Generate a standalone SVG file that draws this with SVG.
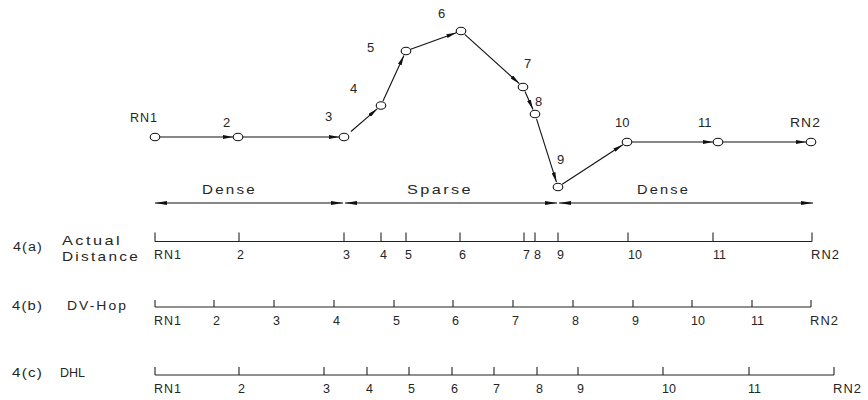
<svg xmlns="http://www.w3.org/2000/svg" width="868" height="400" viewBox="0 0 868 400">
<style>
text{font-family:"Liberation Sans",Arial,sans-serif;font-size:13px;fill:#262626}
.ax text{font-size:12.5px}
text.w{font-size:13.5px;letter-spacing:2px}
text.rn{letter-spacing:1px}
.node ellipse{fill:#fff;stroke:#111;stroke-width:1.1}
.edge{stroke:#111;stroke-width:1.1;fill:none;marker-end:url(#ah)}
.span{stroke:#111;stroke-width:1.1;fill:none;marker-start:url(#ah2);marker-end:url(#ah2)}
.axis line{stroke:#222;stroke-width:1.1}
</style>
<defs>
<marker id="ah" viewBox="0 0 10 4" refX="10" refY="2" markerWidth="10" markerHeight="4" orient="auto" markerUnits="userSpaceOnUse"><path d="M0,0 L10,2 L0,4 z" fill="#111"/></marker>
<marker id="ah2" viewBox="0 0 12 4" refX="12" refY="2" markerWidth="12" markerHeight="4" orient="auto-start-reverse" markerUnits="userSpaceOnUse"><path d="M0,0 L12,2 L0,4 z" fill="#111"/></marker>
</defs>

<g id="connectors">
<line class="edge" x1="160" y1="137" x2="233" y2="137"/>
<line class="edge" x1="243" y1="137" x2="339" y2="137"/>
<line class="edge" x1="351" y1="131.5" x2="377.2" y2="108.8"/>
<line class="edge" x1="383" y1="101" x2="403.9" y2="55.5"/>
<line class="edge" x1="410.7" y1="49.3" x2="456.3" y2="32.7"/>
<line class="edge" x1="464.7" y1="34.4" x2="519.3" y2="83.6"/>
<line class="edge" x1="525" y1="91.6" x2="533" y2="109.4"/>
<line class="edge" x1="536.5" y1="118.8" x2="556.5" y2="182.2"/>
<line class="edge" x1="562.2" y1="184.3" x2="622.8" y2="144.7"/>
<line class="edge" x1="632" y1="142" x2="713" y2="142"/>
<line class="edge" x1="723" y1="142" x2="806" y2="142"/>
</g>

<g id="node-RN1" class="node"><ellipse cx="155" cy="137" rx="4.8" ry="3.8"/><text class="rn" x="130" y="122" textLength="28" lengthAdjust="spacingAndGlyphs">RN1</text></g>
<g id="node-2" class="node"><ellipse cx="238" cy="137" rx="4.8" ry="3.8"/><text x="223" y="127">2</text></g>
<g id="node-3" class="node"><ellipse cx="344" cy="137" rx="4.8" ry="3.8"/><text x="325" y="121">3</text></g>
<g id="node-4" class="node"><ellipse cx="381" cy="105.5" rx="4.8" ry="3.8"/><text x="350" y="93">4</text></g>
<g id="node-5" class="node"><ellipse cx="406" cy="51" rx="4.8" ry="3.8"/><text x="367" y="52">5</text></g>
<g id="node-6" class="node"><ellipse cx="461" cy="31" rx="4.8" ry="3.8"/><text x="438" y="18">6</text></g>
<g id="node-7" class="node"><ellipse cx="523" cy="87" rx="4.8" ry="3.8"/><text x="524" y="68">7</text></g>
<g id="node-8" class="node"><ellipse cx="535" cy="114" rx="4.8" ry="3.8"/><text x="535" y="106">8</text></g>
<g id="node-9" class="node"><ellipse cx="558" cy="187" rx="4.8" ry="3.8" stroke-width="1.6"/><text x="557" y="164">9</text></g>
<g id="node-10" class="node"><ellipse cx="627" cy="142" rx="4.8" ry="3.8"/><text x="615" y="127">10</text></g>
<g id="node-11" class="node"><ellipse cx="718" cy="142" rx="4.8" ry="3.8"/><text x="698" y="127">11</text></g>
<g id="node-RN2" class="node"><ellipse cx="811" cy="142" rx="4.8" ry="3.8"/><text class="rn" x="790" y="127" textLength="31" lengthAdjust="spacingAndGlyphs">RN2</text></g>

<g id="regions">
<line class="span" x1="155" y1="203" x2="343" y2="203"/>
<line class="span" x1="345" y1="203" x2="557" y2="203"/>
<line class="span" x1="559" y1="203" x2="813" y2="203"/>
<text class="w" x="202" y="194" textLength="55" lengthAdjust="spacingAndGlyphs">Dense</text>
<text class="w" x="407" y="194" textLength="66" lengthAdjust="spacingAndGlyphs">Sparse</text>
<text class="w" x="637" y="194" textLength="53" lengthAdjust="spacingAndGlyphs">Dense</text>
</g>

<g id="row-a" class="axis ax">
<text class="rn" x="13" y="251" textLength="30" lengthAdjust="spacingAndGlyphs">4(a)</text>
<text class="w" x="62" y="245" textLength="60" lengthAdjust="spacingAndGlyphs">Actual</text>
<text class="w" x="62" y="261" textLength="78" lengthAdjust="spacingAndGlyphs">Distance</text>
<line x1="155" y1="241.5" x2="812" y2="241.5"/>
<line x1="155" y1="232.5" x2="155" y2="241.5"/>
<line x1="239" y1="232.5" x2="239" y2="241.5"/>
<line x1="344" y1="232.5" x2="344" y2="241.5"/>
<line x1="381" y1="232.5" x2="381" y2="241.5"/>
<line x1="406" y1="232.5" x2="406" y2="241.5"/>
<line x1="460" y1="232.5" x2="460" y2="241.5"/>
<line x1="524" y1="232.5" x2="524" y2="241.5"/>
<line x1="535" y1="232.5" x2="535" y2="241.5"/>
<line x1="558" y1="232.5" x2="558" y2="241.5"/>
<line x1="628" y1="232.5" x2="628" y2="241.5"/>
<line x1="713" y1="232.5" x2="713" y2="241.5"/>
<line x1="812" y1="232.5" x2="812" y2="241.5"/>
<text class="rn" x="154" y="258.5" textLength="28" lengthAdjust="spacingAndGlyphs">RN1</text>
<text x="237" y="258.5">2</text>
<text x="343" y="258.5">3</text>
<text x="380" y="258.5">4</text>
<text x="405" y="258.5">5</text>
<text x="459" y="258.5">6</text>
<text x="523" y="258.5">7</text>
<text x="534" y="258.5">8</text>
<text x="557" y="258.5">9</text>
<text x="628" y="258.5">10</text>
<text x="713" y="258.5">11</text>
<text class="rn" x="811" y="258.5" textLength="29" lengthAdjust="spacingAndGlyphs">RN2</text>
</g>

<g id="row-b" class="axis ax">
<text class="rn" x="12" y="310" textLength="31" lengthAdjust="spacingAndGlyphs">4(b)</text>
<text class="w" x="67" y="310" textLength="61" lengthAdjust="spacingAndGlyphs">DV-Hop</text>
<line x1="155" y1="307" x2="811" y2="307"/>
<line x1="155" y1="300" x2="155" y2="307"/>
<line x1="214" y1="300" x2="214" y2="307"/>
<line x1="274" y1="300" x2="274" y2="307"/>
<line x1="334" y1="300" x2="334" y2="307"/>
<line x1="394" y1="300" x2="394" y2="307"/>
<line x1="453" y1="300" x2="453" y2="307"/>
<line x1="513" y1="300" x2="513" y2="307"/>
<line x1="573" y1="300" x2="573" y2="307"/>
<line x1="633" y1="300" x2="633" y2="307"/>
<line x1="692" y1="300" x2="692" y2="307"/>
<line x1="752" y1="300" x2="752" y2="307"/>
<line x1="811" y1="300" x2="811" y2="307"/>
<text class="rn" x="154" y="325" textLength="28" lengthAdjust="spacingAndGlyphs">RN1</text>
<text x="213" y="325">2</text>
<text x="273" y="325">3</text>
<text x="333" y="325">4</text>
<text x="393" y="325">5</text>
<text x="452" y="325">6</text>
<text x="512" y="325">7</text>
<text x="572" y="325">8</text>
<text x="632" y="325">9</text>
<text x="691" y="325">10</text>
<text x="751" y="325">11</text>
<text class="rn" x="810" y="325" textLength="29" lengthAdjust="spacingAndGlyphs">RN2</text>
</g>

<g id="row-c" class="axis ax">
<text class="rn" x="12" y="377" textLength="31" lengthAdjust="spacingAndGlyphs">4(c)</text>
<text x="60" y="377" style="font-size:12.5px">DHL</text>
<line x1="155" y1="375" x2="834" y2="375"/>
<line x1="155" y1="367" x2="155" y2="375"/>
<line x1="239" y1="367" x2="239" y2="375"/>
<line x1="324" y1="367" x2="324" y2="375"/>
<line x1="367" y1="367" x2="367" y2="375"/>
<line x1="409" y1="367" x2="409" y2="375"/>
<line x1="452" y1="367" x2="452" y2="375"/>
<line x1="494" y1="367" x2="494" y2="375"/>
<line x1="537" y1="367" x2="537" y2="375"/>
<line x1="578" y1="367" x2="578" y2="375"/>
<line x1="663" y1="367" x2="663" y2="375"/>
<line x1="749" y1="367" x2="749" y2="375"/>
<line x1="834" y1="367" x2="834" y2="375"/>
<text class="rn" x="154" y="393" textLength="28" lengthAdjust="spacingAndGlyphs">RN1</text>
<text x="238" y="393">2</text>
<text x="323" y="393">3</text>
<text x="366" y="393">4</text>
<text x="408" y="393">5</text>
<text x="451" y="393">6</text>
<text x="493" y="393">7</text>
<text x="536" y="393">8</text>
<text x="577" y="393">9</text>
<text x="662" y="393">10</text>
<text x="748" y="393">11</text>
<text class="rn" x="833" y="393" textLength="29" lengthAdjust="spacingAndGlyphs">RN2</text>
</g>
</svg>
